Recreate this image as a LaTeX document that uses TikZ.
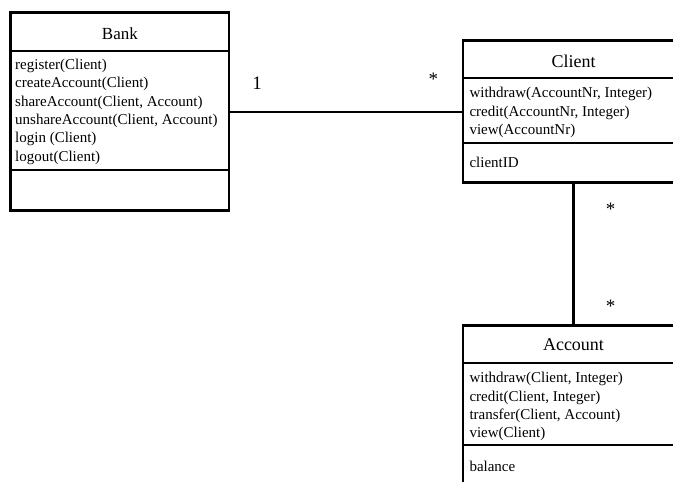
\documentclass[tikz,border=0pt]{standalone}
\usepackage{fontspec}
\setmainfont{Liberation Serif}
\begin{document}
\begin{tikzpicture}[x=1pt, y=-1pt,
  classbox/.style={draw, line width=2.8pt, inner sep=0pt, outer sep=0pt, anchor=north west},
  divider/.style={line width=2pt},
  assoc/.style={line width=2.2pt},
  member/.style={anchor=base west, inner sep=0pt, font=\fontsize{15}{18}\selectfont},
  classname/.style={anchor=base, inner sep=0pt, font=\fontsize{18}{21}\selectfont},
  mult/.style={anchor=base, inner sep=0pt, font=\fontsize{19}{22}\selectfont}]
\useasboundingbox (0,0) rectangle (673,482);
\clip (0,0) rectangle (673,482);

% --- class Bank ---
\node[classbox, minimum width=218.2pt, minimum height=197.9pt] (bank) at (10.8,12.8) {};
\draw[divider] (10.8,51) -- (229,51);
\draw[divider] (10.8,170.3) -- (229,170.3);
\node[classname, font=\fontsize{17}{20}\selectfont] (bankname) at (119.9,39) {Bank};
\node[member] (b1) at (15,69.5) {register(Client)};
\node[member] (b2) at (15,87.8) {createAccount(Client)};
\node[member] (b3) at (15,106.2) {shareAccount(Client, Account)};
\node[member] (b4) at (15,124.5) {unshareAccount(Client, Account)};
\node[member] (b5) at (15,142.9) {login (Client)};
\node[member] (b6) at (15,161.2) {logout(Client)};

% --- class Client ---
\node[classbox, minimum width=221pt, minimum height=142.1pt] (client) at (463,40.7) {};
\draw[divider] (463,77.7) -- (684,77.7);
\draw[divider] (463,142.7) -- (684,142.7);
\node[classname] (clientname) at (573.5,67) {Client};
\node[member] (c1) at (469.3,97.8) {withdraw(AccountNr, Integer)};
\node[member] (c2) at (469.3,116.1) {credit(AccountNr, Integer)};
\node[member] (c3) at (469.3,134.5) {view(AccountNr)};
\node[member] (c4) at (469.3,167.8) {clientID};

% --- class Account ---
\node[classbox, minimum width=221pt, minimum height=180pt] (account) at (463,325.3) {};
\draw[divider] (463,362.8) -- (684,362.8);
\draw[divider] (463,445) -- (684,445);
\node[classname] (accountname) at (573.5,350) {Account};
\node[member] (a1) at (469.3,382.8) {withdraw(Client, Integer)};
\node[member] (a2) at (469.3,401.2) {credit(Client, Integer)};
\node[member] (a3) at (469.3,419.5) {transfer(Client, Account)};
\node[member] (a4) at (469.3,437.8) {view(Client)};
\node[member] (a5) at (469.3,471.3) {balance};

% --- associations ---
\draw[assoc] (bank.east) -- (client.west);
\draw[assoc] (client.south) -- (account.north);

% --- multiplicities ---
\node[mult] (m1) at (257,89) {1};
\node[mult] (m2) at (433.3,85.5) {*};
\node[mult] (m3) at (610.7,215.5) {*};
\node[mult] (m4) at (610.7,312.2) {*};
\end{tikzpicture}
\end{document}
